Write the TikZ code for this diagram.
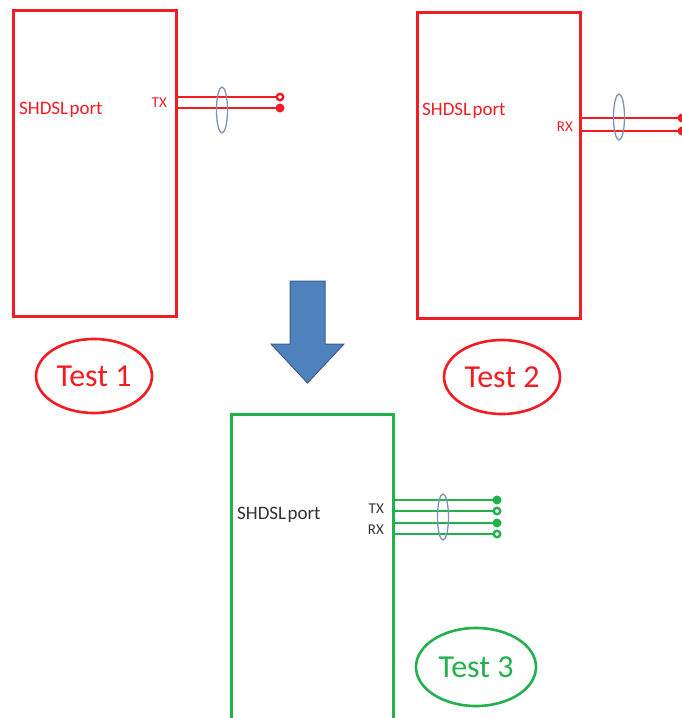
\documentclass[tikz,border=0pt]{standalone}
\usepackage{fontspec}
\setmainfont{Carlito}
\definecolor{rd}{HTML}{F21C24}
\definecolor{gr}{HTML}{22B14C}
\definecolor{blu}{HTML}{4F81BD}
\definecolor{bludk}{HTML}{3A5F8C}
\definecolor{ring}{HTML}{7F93B2}
\definecolor{txt}{HTML}{333333}
\tikzset{
  redbox/.style={draw=rd, line width=3pt, inner sep=0pt},
  greenbox/.style={draw=gr, line width=3pt, inner sep=0pt},
  wire/.style={line width=1.4pt},
  pairring/.style={draw=ring, line width=1.3pt, ellipse, inner sep=0pt, minimum width=11pt, minimum height=46pt},
  dotfull/.style={circle, inner sep=0pt, minimum size=9pt},
  dotopen/.style={circle, inner sep=0pt, minimum size=6.5pt, line width=2.4pt, fill=white},
  testlabel/.style={ellipse, line width=2.6pt, inner sep=0pt, font=\fontsize{32}{34}\selectfont},
  portlabel/.style={anchor=west, inner sep=0pt, font=\fontsize{19}{20}\selectfont},
  pinlabel/.style={anchor=east, inner sep=0pt, font=\fontsize{15}{16}\selectfont},
}
\usetikzlibrary{shapes.geometric}
\begin{document}
\begin{tikzpicture}[x=1pt,y=-1pt]
\useasboundingbox (0,0) rectangle (681,718);
\fill[white] (0,0) rectangle (681,718);

% ---------- Box 1 (Test 1) ----------
\node[redbox, minimum width=163pt, minimum height=306pt] (b1) at (94.5,163) {};
\node[portlabel, text=rd] (p1) at (19,110) {SHDSL\hspace{1.5pt}port};
\node[pinlabel, text=rd] (tx1) at (167,103) {TX};
\coordinate (e1a) at (280,97);
\coordinate (e1b) at (280,108);
\draw[wire, rd] (e1a -| b1.east) -- (e1a);
\draw[wire, rd] (e1b -| b1.east) -- (e1b);
\node[pairring] (r1) at (222,110) {};
\node[dotopen, draw=rd] (d1a) at (e1a) {};
\node[dotfull, fill=rd] (d1b) at (e1b) {};
\node[testlabel, draw=rd, text=rd, minimum width=116pt, minimum height=74pt] (t1) at (94,376) {Test 1};

% ---------- Box 2 (Test 2) ----------
\node[redbox, minimum width=163pt, minimum height=306pt] (b2) at (498.5,165) {};
\node[portlabel, text=rd] (p2) at (422,111) {SHDSL\hspace{1.5pt}port};
\node[pinlabel, text=rd] (rx2) at (573,127) {RX};
\coordinate (e2a) at (682,118);
\coordinate (e2b) at (682,131);
\draw[wire, rd] (e2a -| b2.east) -- (e2a);
\draw[wire, rd] (e2b -| b2.east) -- (e2b);
\node[pairring] (r2) at (619,117) {};
\node[dotfull, fill=rd] (d2a) at (e2a) {};
\node[dotfull, fill=rd] (d2b) at (e2b) {};
\node[testlabel, draw=rd, text=rd, minimum width=116pt, minimum height=74pt] (t2) at (502,377) {Test 2};

% ---------- Arrow ----------
\filldraw[fill=blu, draw=bludk, line width=1pt, line join=miter]
  (290,281) -- (325,281) -- (325,344) -- (344,344) -- (307.5,383) -- (271,344) -- (290,344) -- cycle;

% ---------- Box 3 (Test 3) ----------
\node[greenbox, minimum width=162pt, minimum height=320pt] (b3) at (312,574) {};
\node[portlabel, text=txt] (p3) at (237,515) {SHDSL\hspace{1.5pt}port};
\node[pinlabel, text=txt] (tx3) at (384,509) {TX};
\node[pinlabel, text=txt] (rx3) at (384,530) {RX};
\coordinate (e3a) at (497,500);
\coordinate (e3b) at (497,511);
\coordinate (e3c) at (497,523);
\coordinate (e3d) at (497,534);
\draw[wire, gr] (e3a -| b3.east) -- (e3a);
\draw[wire, gr] (e3b -| b3.east) -- (e3b);
\draw[wire, gr] (e3c -| b3.east) -- (e3c);
\draw[wire, gr] (e3d -| b3.east) -- (e3d);
\node[pairring] (r3) at (443,517) {};
\node[dotfull, fill=gr] (d3a) at (e3a) {};
\node[dotopen, draw=gr] (d3b) at (e3b) {};
\node[dotfull, fill=gr] (d3c) at (e3c) {};
\node[dotopen, draw=gr] (d3d) at (e3d) {};
\node[testlabel, draw=gr, text=gr, minimum width=120pt, minimum height=78pt] (t3) at (476,667) {Test 3};
\end{tikzpicture}
\end{document}
